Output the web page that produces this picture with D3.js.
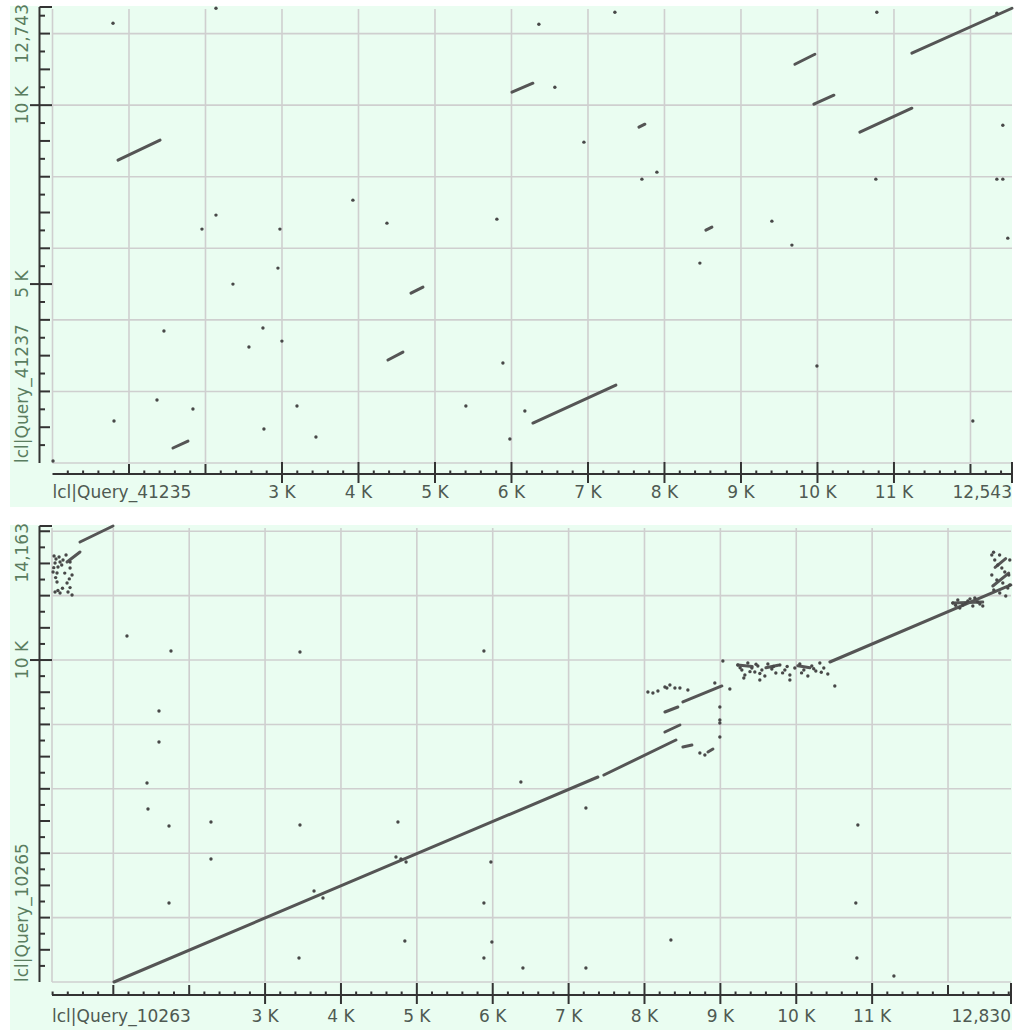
<!DOCTYPE html>
<html>
<head>
<meta charset="utf-8">
<script src="https://cdn.jsdelivr.net/npm/d3@7"></script>
<style>
  body { margin: 0; background: #fff; }
  svg { display: block; }
  text { font-family: "DejaVu Sans", sans-serif; }
</style>
</head>
<body>
<svg id="plot" width="1018" height="1030"></svg>
<script>
// ---- top dot plot: lcl|Query_41235 (x) against lcl|Query_41237 (y)
var topXName = "lcl|Query_41235";
var topYName = "lcl|Query_41237";
var topXExtent = [0, 12543];
var topYExtent = [0, 12743];
var topXTicks = [3000, 4000, 5000, 6000, 7000, 8000, 9000, 10000, 11000];
var topXTickLabels = ["3 K", "4 K", "5 K", "6 K", "7 K", "8 K", "9 K", "10 K", "11 K"];
var topYTicks = [5000, 10000];
var topYTickLabels = ["5 K", "10 K"];
var topXEndLabel = "12,543";
var topYEndLabel = "12,743";
// [x1, y1, x2, y2]
var topSegments = [
  [856, 8463, 1406, 9022], [1575, 419, 1771, 614], [4385, 2877, 4581, 3100],
  [4686, 4748, 4843, 4916], [6280, 1117, 7365, 2179], [6006, 10362, 6280, 10613],
  [7666, 9384, 7744, 9468], [8541, 6508, 8620, 6591], [9705, 11144, 9966, 11423],
  [9953, 10027, 10215, 10278], [10554, 9245, 11234, 9915], [11234, 11451, 12543, 12708]
];
// [x, y]
var topDots = [
  [791, 12289], [2137, 12708], [2137, 6927], [1954, 6536], [2359, 5000], [1457, 3687],
  [2568, 3240], [1366, 1760], [1836, 1508], [804, 1173], [7, 56], [2751, 3771],
  [2764, 950], [2947, 5446], [2973, 6536], [2999, 3407], [3196, 1592], [3444, 726],
  [3927, 7346], [4372, 6703], [5404, 1592], [5809, 6815], [5888, 2793], [5979, 670],
  [6175, 1452], [6358, 12261], [6567, 10502], [7352, 12596], [6947, 8966], [7705, 7932],
  [7901, 8128], [8463, 5586], [9404, 6759], [9666, 6089], [9993, 2709], [10776, 12596],
  [10763, 7932], [12031, 1173], [12423, 9440], [12345, 7932], [12423, 7932], [12488, 6284],
  [12345, 12568]
];

// ---- bottom dot plot: lcl|Query_10263 (x) against lcl|Query_10265 (y)
var bottomXName = "lcl|Query_10263";
var bottomYName = "lcl|Query_10265";
var bottomXExtent = [192, 12830];
var bottomYExtent = [0, 14163];
var bottomXTicks = [3000, 4000, 5000, 6000, 7000, 8000, 9000, 10000, 11000];
var bottomXTickLabels = ["3 K", "4 K", "5 K", "6 K", "7 K", "8 K", "9 K", "10 K", "11 K"];
var bottomYTicks = [10000];
var bottomYTickLabels = ["10 K"];
var bottomXEndLabel = "12,830";
var bottomYEndLabel = "14,163";
var bottomSegments = [
  [1009, 0, 7386, 6367], [7465, 6429, 8414, 7517], [8506, 8697, 9020, 9194],
  [10443, 9939, 12828, 12331], [561, 13666, 996, 14163], [390, 13045, 561, 13356],
  [8269, 8386, 8440, 8542], [8269, 7765, 8467, 7982], [8506, 7299, 8625, 7361],
  [8836, 7144, 8902, 7237], [12063, 11772, 12458, 11800], [12590, 12300, 12800, 12700],
  [12620, 12880, 12760, 13150], [9230, 9846, 9420, 9800], [9600, 9760, 9760, 9840],
  [10020, 9820, 10180, 9760]
];
var bottomDots = [
  [1180, 10747], [1760, 10281], [1602, 8417], [1602, 7454], [1444, 6181], [1457, 5373],
  [1734, 4845], [2287, 4970], [2287, 3820], [1734, 2454], [3460, 10250], [3460, 4876],
  [3447, 745], [3645, 2826], [3763, 2609], [4751, 4970], [4725, 3882], [4790, 3820],
  [4858, 3727], [4842, 1273], [5884, 10281], [5884, 2454], [5884, 745], [5989, 1242],
  [5976, 3727], [6398, 435], [6371, 6212], [7228, 435], [7228, 5404], [8348, 1304],
  [10812, 4876], [10785, 2454], [10799, 745], [11287, 186],
  // upper left group
  [232, 13014], [271, 12890], [206, 12735], [430, 12859], [456, 12641], [258, 12424],
  [390, 12393], [232, 12113], [403, 12113], [456, 12020], [298, 13045], [337, 13107],
  [430, 13045], [258, 12703], [298, 12082], [219, 13231], [377, 13263], [245, 13140],
  [285, 13200], [320, 12950], [215, 12870], [360, 12700], [420, 12520], [240, 12560],
  [330, 12230], [270, 12160], [430, 12250],
  // upper right group
  [12063, 11772], [12129, 11865], [12195, 11710], [12261, 11834], [12327, 11679],
  [12392, 11803], [12458, 11679], [12155, 11617], [12353, 11927], [12577, 13263],
  [12616, 13107], [12656, 12952], [12709, 12859], [12748, 12735], [12577, 12641],
  [12643, 12486], [12722, 12393], [12788, 12238], [12603, 12176], [12682, 12082],
  [12761, 11989], [12814, 12331], [12801, 12641], [12814, 13107], [12100, 11700],
  [12230, 11760], [12290, 11900], [12420, 11740], [12600, 13350], [12680, 13260],
  // 8-9 K group
  [8045, 9007], [8111, 8976], [8177, 9038], [8269, 9163], [8335, 9225], [8401, 9132],
  [8467, 9132], [8572, 9070], [8295, 9132], [8730, 7113], [8796, 7051], [8993, 8542],
  [8993, 8138], [8993, 8045], [8993, 7610], [9033, 9970], [8927, 9287], [9125, 9101],
  // 9-10.5 K group
  [9230, 9846], [9283, 9691], [9323, 9535], [9362, 9908], [9415, 9753], [9454, 9629],
  [9494, 9815], [9547, 9691], [9586, 9504], [9626, 9877], [9678, 9722], [9731, 9598],
  [9784, 9846], [9850, 9691], [9916, 9535], [9981, 9753], [10047, 9877], [10100, 9691],
  [10153, 9504], [10205, 9815], [10258, 9660], [10311, 9908], [10363, 9753], [10416, 9567],
  [10508, 9194], [9309, 9442], [9520, 9380], [9916, 9380], [9260, 9760], [9390, 9640],
  [9470, 9870], [9520, 9580], [9700, 9800], [9820, 9600], [9880, 9800], [10070, 9600],
  [10230, 9730], [10330, 9620]
];

var svg = d3.select("#plot");

function drawPanel(p) {
  var g = svg.append("g");
  var x = d3.scaleLinear().domain(p.xExtent).range([p.left, p.right]);
  var y = d3.scaleLinear().domain(p.yExtent).range([p.bottom, p.top]);
  var xMin = p.xExtent[0], xMax = p.xExtent[1], yMax = p.yExtent[1];
  var axisX = 39.5;

  g.append("rect")
      .attr("x", 10).attr("y", p.bgTop)
      .attr("width", 1002).attr("height", p.bgBottom - p.bgTop)
      .attr("fill", "#eafdf1");

  // grid
  var vGrid = [xMin].concat(d3.range(1000, xMax, 1000));
  g.selectAll(".vgrid").data(vGrid).join("line")
      .attr("x1", d => x(d)).attr("x2", d => x(d))
      .attr("y1", y(yMax) + 2).attr("y2", y(0))
      .attr("stroke", "#cfcfcf").attr("stroke-width", 1.6);
  g.selectAll(".hgrid").data(d3.range(0, yMax, 2000)).join("line")
      .attr("x1", x(xMin)).attr("x2", x(xMax))
      .attr("y1", d => y(d)).attr("y2", d => y(d))
      .attr("stroke", "#cfcfcf").attr("stroke-width", 1.6);

  // hits
  g.selectAll(".seg").data(p.segments).join("line")
      .attr("x1", d => x(d[0])).attr("y1", d => y(d[1]))
      .attr("x2", d => x(d[2])).attr("y2", d => y(d[3]))
      .attr("stroke", "#555").attr("stroke-width", 3)
      .attr("stroke-linecap", "round");
  g.selectAll(".dot").data(p.dots).join("circle")
      .attr("cx", d => x(d[0])).attr("cy", d => y(d[1]))
      .attr("r", 1.7).attr("fill", "#484848");

  // y axis
  g.append("line")
      .attr("x1", axisX).attr("x2", axisX)
      .attr("y1", y(yMax)).attr("y2", y(0))
      .attr("stroke", "#333").attr("stroke-width", 2);
  var yTickVals = d3.range(500, yMax, 500).concat([yMax]);
  g.selectAll(".ytick").data(yTickVals).join("line")
      .attr("y1", d => y(d)).attr("y2", d => y(d))
      .attr("x1", d => p.yTicks.includes(d) ? 30 : axisX)
      .attr("x2", d => (p.yTicks.includes(d) || d === yMax) ? 52 : (d % 1000 === 0 ? 50 : 45))
      .attr("stroke", "#333").attr("stroke-width", 2);
  var yLab = p.yTicks.map((d, i) => ({v: d, t: p.yTickLabels[i], a: "middle"}))
      .concat([{v: 0, t: p.yName, a: "start"}, {v: yMax, t: p.yEndLabel, a: "end"}]);
  g.selectAll(".ylab").data(yLab).join("text")
      .attr("transform", d => "translate(28," + (d.a === "end" ? y(d.v) - 3 : y(d.v)) + ") rotate(-90)")
      .attr("text-anchor", d => d.a)
      .attr("font-size", 17)
      .attr("fill", "#5a7d60")
      .text(d => d.t);

  // x axis
  var ay = p.axisY;
  g.append("line")
      .attr("x1", x(xMin)).attr("x2", x(xMax))
      .attr("y1", ay).attr("y2", ay)
      .attr("stroke", "#333").attr("stroke-width", 2);
  var xTickVals = d3.range(200, xMax, 200).concat([xMax]);
  g.selectAll(".xtick").data(xTickVals).join("line")
      .attr("x1", d => x(d)).attr("x2", d => x(d))
      .attr("y1", d => (p.xTicks.includes(d) || d === xMax) ? ay - 12 : (d % 1000 === 0 ? ay - 10 : ay - 3.5))
      .attr("y2", d => (p.xTicks.includes(d) || d === xMax) ? ay + 9 : ay)
      .attr("stroke", "#333").attr("stroke-width", 2);
  var xLab = p.xTicks.map((d, i) => ({v: d, t: p.xTickLabels[i], a: "middle"}))
      .concat([{v: xMin, t: p.xName, a: "start"}, {v: xMax, t: p.xEndLabel, a: "end"}]);
  g.selectAll(".xlab").data(xLab).join("text")
      .attr("x", d => x(d.v))
      .attr("y", p.labelY)
      .attr("text-anchor", d => d.a)
      .attr("font-size", 17)
      .attr("fill", "#4f5a52")
      .text(d => d.t);
}

drawPanel({
  xExtent: topXExtent, yExtent: topYExtent,
  xTicks: topXTicks, xTickLabels: topXTickLabels,
  yTicks: topYTicks, yTickLabels: topYTickLabels,
  xName: topXName, yName: topYName, xEndLabel: topXEndLabel, yEndLabel: topYEndLabel,
  segments: topSegments, dots: topDots,
  left: 52.5, right: 1012, top: 7, bottom: 463,
  bgTop: 6, bgBottom: 507, axisY: 474, labelY: 498
});

drawPanel({
  xExtent: bottomXExtent, yExtent: bottomYExtent,
  xTicks: bottomXTicks, xTickLabels: bottomXTickLabels,
  yTicks: bottomYTicks, yTickLabels: bottomYTickLabels,
  xName: bottomXName, yName: bottomYName, xEndLabel: bottomXEndLabel, yEndLabel: bottomYEndLabel,
  segments: bottomSegments, dots: bottomDots,
  left: 52, right: 1011, top: 526, bottom: 982,
  bgTop: 525, bgBottom: 1030, axisY: 995, labelY: 1022
});
</script>
</body>
</html>
